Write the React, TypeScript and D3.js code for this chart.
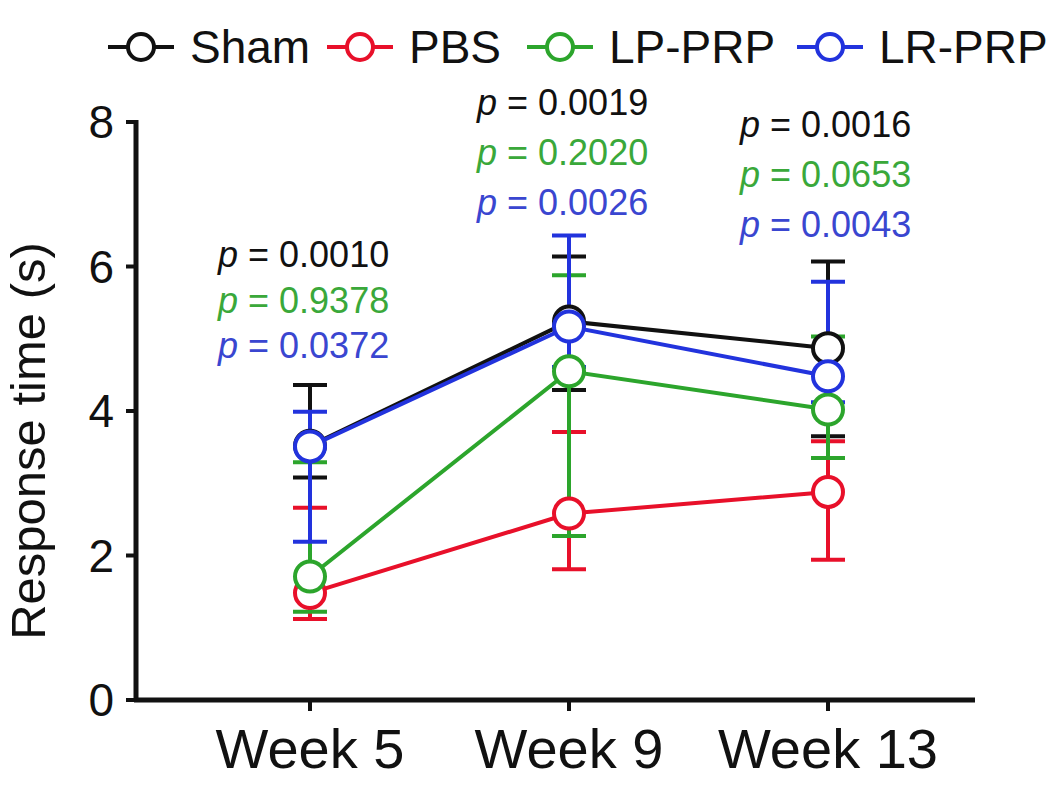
import * as d3 from "d3";

const weeks = ["Week 5", "Week 9", "Week 13"];
const groups = ["Sham", "PBS", "LP-PRP", "LR-PRP"];
const colors = ["#111111", "#e8102a", "#2ca52c", "#2233dd"];

// means and error bar ends, per group, per week
const shamMean = [3.52, 5.24, 4.87];
const shamHi = [4.36, 6.14, 6.07];
const shamLo = [3.08, 4.29, 3.65];
const pbsMean = [1.48, 2.58, 2.88];
const pbsHi = [2.66, 3.71, 3.58];
const pbsLo = [1.12, 1.81, 1.94];
const lpMean = [1.71, 4.55, 4.02];
const lpHi = [3.29, 5.88, 5.03];
const lpLo = [1.22, 2.27, 3.35];
const lrMean = [3.51, 5.17, 4.48];
const lrHi = [3.99, 6.43, 5.79];
const lrLo = [2.19, 4.61, 4.12];

const yTicks = [0, 2, 4, 6, 8];

// p values per week: vs Sham, vs LP-PRP, vs LR-PRP
const pSham = ["0.0010", "0.0019", "0.0016"];
const pLp = ["0.9378", "0.2020", "0.0653"];
const pLr = ["0.0372", "0.0026", "0.0043"];
const pColors = ["#111111", "#3aa83a", "#3a46d0"];
const pTop = [267, 115, 137];
const pLeft = [218, 477, 740];

const series = [
  { mean: shamMean, hi: shamHi, lo: shamLo },
  { mean: pbsMean, hi: pbsHi, lo: pbsLo },
  { mean: lpMean, hi: lpHi, lo: lpLo },
  { mean: lrMean, hi: lrHi, lo: lrLo },
];

const legendX = [108, 327, 527, 797];

export default function App() {
  const width = 1050;
  const height = 788;
  const axisX = 136;
  const axisY = 700;

  const x = d3.scalePoint<string>().domain(weeks).range([310, 828]);
  const y = d3.scaleLinear().domain([0, 8]).range([axisY, 122]);

  const line = d3
    .line<number>()
    .x((_, i) => x(weeks[i])!)
    .y((d) => y(d));

  const font = "Liberation Sans, Arial, sans-serif";
  const capW = 17;

  return (
    <svg
      width={width}
      height={height}
      style={{ position: "absolute", left: 0, top: 0, background: "#fff" }}
      fontFamily={font}
    >
      {/* legend */}
      {groups.map((g, i) => (
        <g key={g} transform={`translate(${legendX[i]},47)`}>
          <line x1={0} x2={66} y1={0} y2={0} stroke={colors[i]} strokeWidth={4} />
          <circle cx={33} cy={0} r={13} fill="#fff" stroke={colors[i]} strokeWidth={4} />
          <text x={82} y={16} fontSize={46} fill="#111">
            {g}
          </text>
        </g>
      ))}

      {/* y axis */}
      <line x1={axisX} x2={axisX} y1={y(8) - 2} y2={axisY + 2} stroke="#111" strokeWidth={5} />
      {yTicks.map((t) => (
        <g key={t}>
          <line x1={axisX - 10} x2={axisX} y1={y(t)} y2={y(t)} stroke="#111" strokeWidth={4} />
          <text x={114} y={y(t) + 16} fontSize={46} textAnchor="end" fill="#111">
            {t}
          </text>
        </g>
      ))}
      <text
        transform={`translate(45,441) rotate(-90)`}
        fontSize={49}
        textAnchor="middle"
        fill="#111"
      >
        Response time (s)
      </text>

      {/* x axis */}
      <line x1={axisX - 2} x2={975} y1={axisY} y2={axisY} stroke="#111" strokeWidth={5} />
      {weeks.map((w) => (
        <g key={w}>
          <line x1={x(w)} x2={x(w)} y1={axisY} y2={axisY + 11} stroke="#111" strokeWidth={4} />
          <text x={x(w)} y={768} fontSize={56} textAnchor="middle" fill="#111">
            {w}
          </text>
        </g>
      ))}

      {/* error bars */}
      {series.map((s, si) => (
        <g key={`e${si}`} stroke={colors[si]} strokeWidth={4}>
          {weeks.map((w, wi) => (
            <g key={w}>
              <line x1={x(w)} x2={x(w)} y1={y(s.hi[wi])} y2={y(s.lo[wi])} />
              <line x1={x(w)! - capW} x2={x(w)! + capW} y1={y(s.hi[wi])} y2={y(s.hi[wi])} />
              <line x1={x(w)! - capW} x2={x(w)! + capW} y1={y(s.lo[wi])} y2={y(s.lo[wi])} />
            </g>
          ))}
        </g>
      ))}

      {/* lines and markers */}
      {series.map((s, si) => (
        <g key={`l${si}`}>
          <path d={line(s.mean)!} fill="none" stroke={colors[si]} strokeWidth={4} />
          {s.mean.map((v, wi) => (
            <circle
              key={wi}
              cx={x(weeks[wi])}
              cy={y(v)}
              r={15}
              fill="#fff"
              stroke={colors[si]}
              strokeWidth={4}
            />
          ))}
        </g>
      ))}

      {/* p values */}
      {weeks.map((w, wi) =>
        [pSham[wi], pLp[wi], pLr[wi]].map((p, k) => (
          <text
            key={`${w}${k}`}
            x={pLeft[wi]}
            y={pTop[wi] + k * (wi === 0 ? 45.5 : 50)}
            fontSize={36}
            fill={pColors[k]}
          >
            <tspan fontStyle="italic">p</tspan>
            {` = ${p}`}
          </text>
        ))
      )}
    </svg>
  );
}
